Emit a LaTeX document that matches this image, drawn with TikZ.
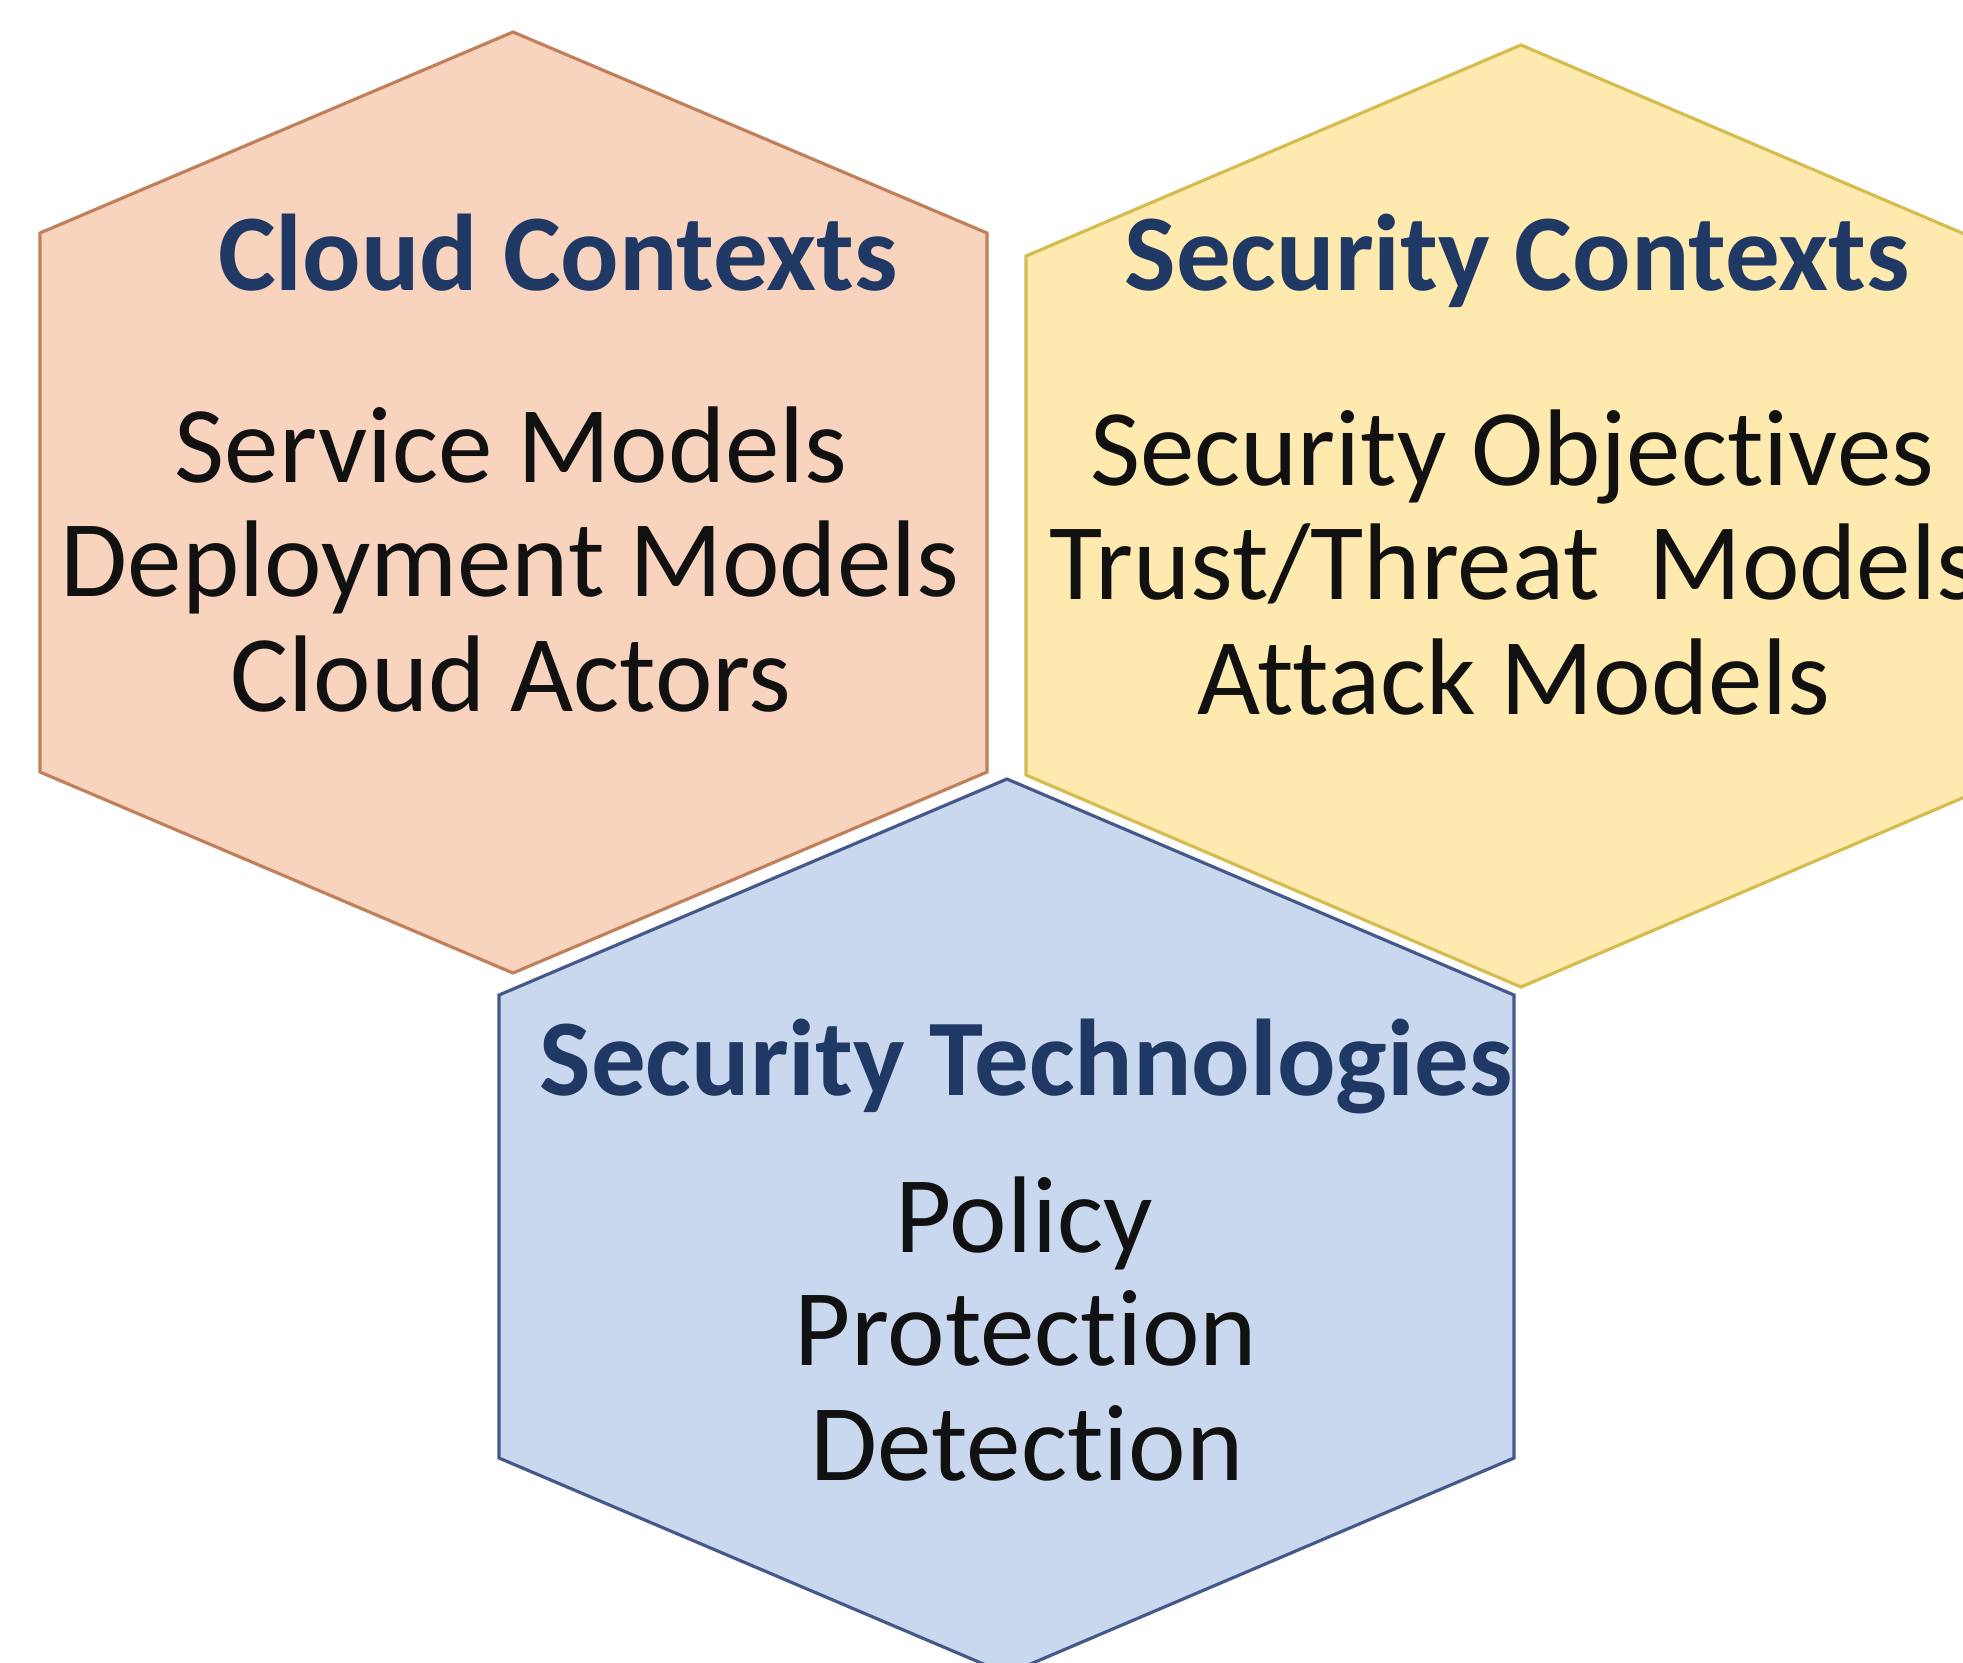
\documentclass[tikz,border=0pt]{standalone}
\usepackage{fontspec}
\setmainfont{Carlito}[RawFeature={-liga;-clig;-dlig}]
\definecolor{orfill}{HTML}{F8D3BD}
\definecolor{ordraw}{HTML}{C0805A}
\definecolor{yefill}{HTML}{FEE9AE}
\definecolor{yedraw}{HTML}{D6BC4E}
\definecolor{blfill}{HTML}{C9D7EF}
\definecolor{bldraw}{HTML}{44598A}
\definecolor{navy}{HTML}{1F3864}
\definecolor{bodytext}{HTML}{111111}
\tikzset{
  hexa/.style={line width=0.9pt, line join=miter},
  titletext/.style={anchor=base, inner sep=0pt, font=\fontsize{31}{37}\selectfont\bfseries, text=navy},
  linetext/.style={anchor=base, inner sep=0pt, font=\fontsize{31}{37}\selectfont, text=bodytext}
}
\begin{document}
\begin{tikzpicture}[x=0.01cm,y=-0.01cm]
\fill[white] (0,0) rectangle (1963,1662);
\clip (0,0) rectangle (1963,1662);
% orange hexagon
\draw[hexa, fill=orfill, draw=ordraw]
  (513,32) -- (987,233) -- (987,772) -- (513,973) -- (40,772) -- (40,233) -- cycle;
% yellow hexagon
\draw[hexa, fill=yefill, draw=yedraw]
  (1521,45) -- (2016,256) -- (2016,775) -- (1521,987) -- (1026,775) -- (1026,256) -- cycle;
% blue hexagon
\draw[hexa, fill=blfill, draw=bldraw]
  (1007,779) -- (1514,995) -- (1514,1458) -- (1007,1674) -- (499,1458) -- (499,995) -- cycle;
% texts
\node[titletext] (cctitle) at (558,290) {Cloud Contexts};
\node[linetext] (cc1) at (511,482) {Service Models};
\node[linetext] (cc2) at (510,596) {Deployment Models};
\node[linetext] (cc3) at (511,711) {Cloud Actors};
\node[titletext] (sctitle) at (1517,290) {Security Contexts};
\node[linetext] (sc1) at (1512,485) {Security Objectives};
\node[linetext] (sc2) at (1514,599) {Trust/Threat\ \ Models};
\node[linetext] (sc3) at (1514,714) {Attack Models};
\node[titletext] (sttitle) at (1026,1095) {Security Technologies};
\node[linetext] (st1) at (1024,1252) {Policy};
\node[linetext] (st2) at (1026,1365) {Protection};
\node[linetext] (st3) at (1027,1480) {Detection};
\end{tikzpicture}
\end{document}
